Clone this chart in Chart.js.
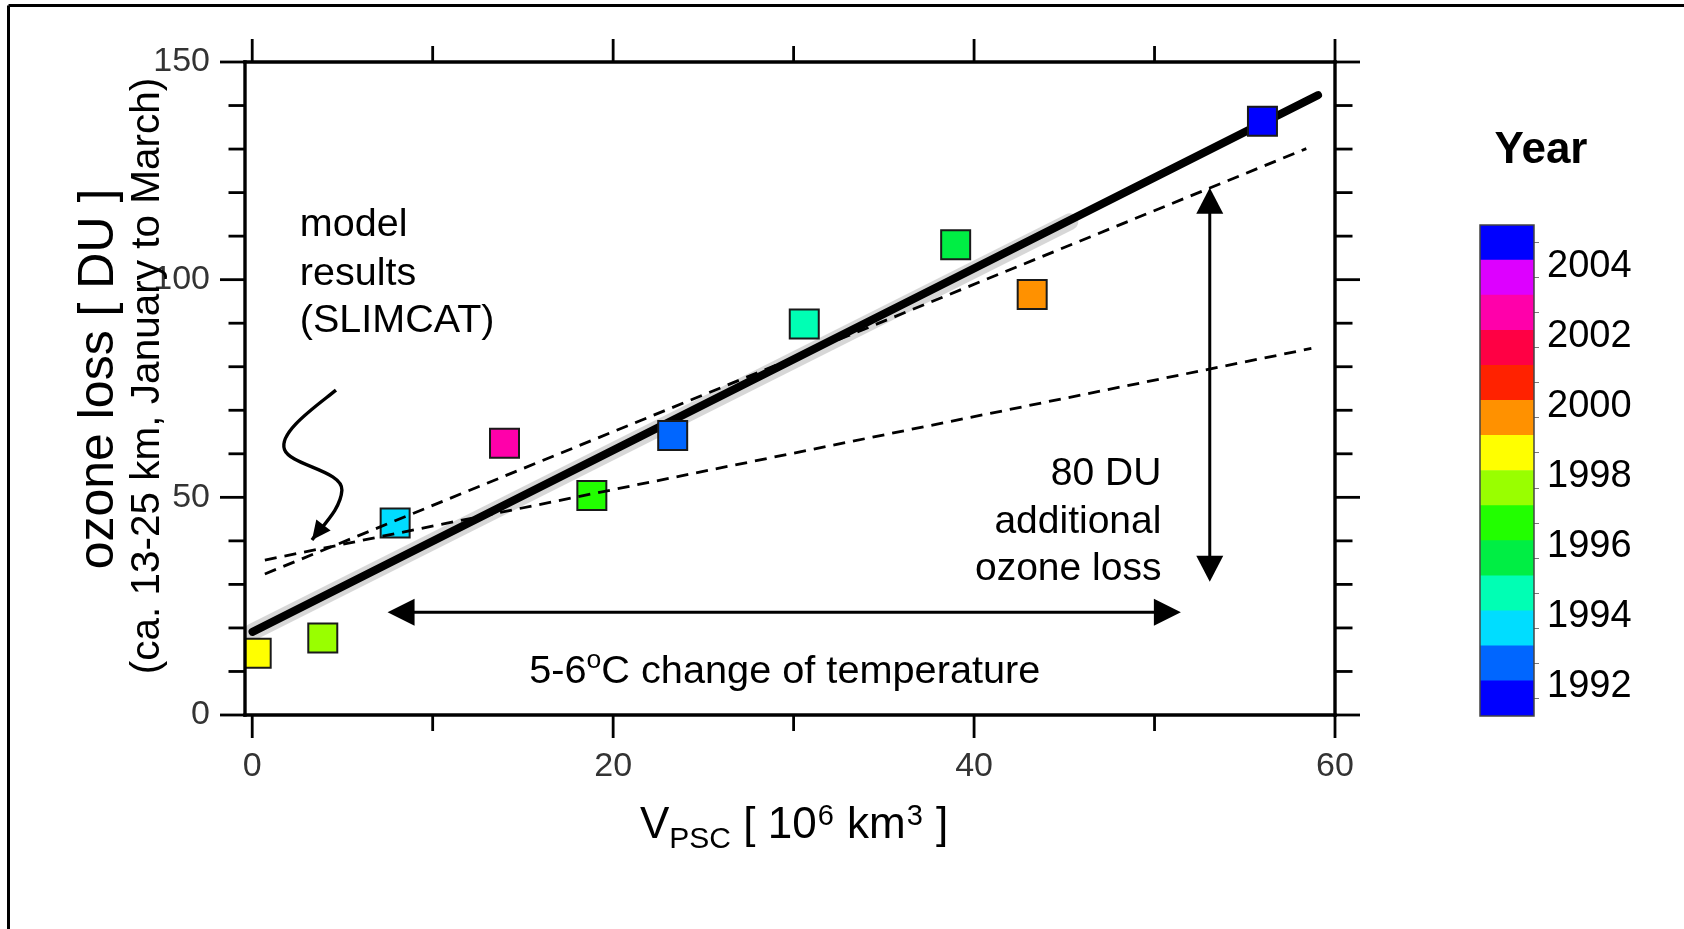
<!DOCTYPE html>
<html>
<head>
<meta charset="utf-8">
<title>Ozone loss vs V_PSC</title>
<script src="https://cdn.jsdelivr.net/npm/chart.js@4.4.1/dist/chart.umd.min.js"></script>
<style>
  html, body { margin: 0; padding: 0; background: #fff; }
  #wrap { position: relative; width: 1684px; height: 929px; overflow: hidden; }
  #ozoneChart { position: absolute; left: 0; top: 0; }
  #yearBar { position: absolute; left: 1440px; top: 0; }
</style>
</head>
<body>
<div id="wrap">
  <canvas id="ozoneChart" width="1684" height="929"></canvas>
  <canvas id="yearBar" width="244" height="929"></canvas>
</div>
<script>
// Observed winters: V_PSC [10^6 km^3] vs ozone loss [DU], coloured by year
const vpsc       = [0.22, 3.91, 7.92, 13.98, 18.82, 23.30, 30.59, 38.98, 43.22, 55.98];
const ozoneLoss  = [14.2, 17.7, 44.1, 62.4, 50.4, 64.2, 89.8, 108.0, 96.6, 136.4];
const winterYear = [1998, 1997, 1993, 2002, 1996, 1992, 1994, 1995, 1999, 2004];

// Regression through the observations, and its grey band
const fitX   = [0.02, 59.06];
const fitY   = [19.1, 142.4];
const shadeX = [0.02, 45.3];
const shadeY = [19.1, 113.3];

// Model results (SLIMCAT), dashed
const steepX = [0.70, 58.41];
const steepY = [32.4, 130.1];
const flatX  = [0.70, 58.69];
const flatY  = [35.6, 84.2];

// Axes
const xTicks  = [0, 10, 20, 30, 40, 50, 60];
const xLabels = [0, 20, 40, 60];
const yTicks  = [0, 10, 20, 30, 40, 50, 60, 70, 80, 90, 100, 110, 120, 130, 140, 150];
const yLabels = [0, 50, 100, 150];

// Colour bar, bottom band first
const bandYears  = [1991, 1992, 1993, 1994, 1995, 1996, 1997, 1998, 1999, 2000, 2001, 2002, 2003, 2004];
const bandColors = ['#0000ff', '#0066ff', '#00ddff', '#00ffb4', '#00ee44', '#22ff00', '#99ff00',
                    '#ffff00', '#ff9100', '#ff2200', '#ff0044', '#ff00aa', '#dd00ff', '#0000ff'];
const yearTicks  = [1992, 1994, 1996, 1998, 2000, 2002, 2004];

// Annotation anchors, in data units
const tempArrow   = { x0: 7.50, x1: 51.46, y: 23.6 };
const lossArrow   = { x: 53.06, y0: 30.6, y1: 121.1 };
const squiggle    = [[4.64, 74.63], [3.63, 71.19], [1.42, 64.97], [1.79, 60.98],
                     [2.12, 57.3], [5.03, 56.15], [4.97, 51.64],
                     [4.91, 47.5], [4.03, 44.1], [3.31, 40.19]];

const FONT = '"Liberation Sans", Arial, sans-serif';
Chart.defaults.font.family = FONT;

function pairs(xs, ys) {
    return xs.map((x, i) => ({ x: x, y: ys[i] }));
}

function arrowHead(ctx, tx, ty, fx, fy, len, half) {
    const a = Math.atan2(ty - fy, tx - fx);
    const bx = tx - len * Math.cos(a);
    const by = ty - len * Math.sin(a);
    ctx.beginPath();
    ctx.moveTo(tx, ty);
    ctx.lineTo(bx + half * Math.sin(a), by - half * Math.cos(a));
    ctx.lineTo(bx - half * Math.sin(a), by + half * Math.cos(a));
    ctx.closePath();
    ctx.fill();
}

function line(ctx, x0, y0, x1, y1) {
    ctx.beginPath();
    ctx.moveTo(x0, y0);
    ctx.lineTo(x1, y1);
    ctx.stroke();
}

function text(ctx, str, x, y, size, align) {
    ctx.font = size + 'px ' + FONT;
    ctx.textAlign = align || 'left';
    ctx.textBaseline = 'alphabetic';
    ctx.fillText(str, x, y);
    return ctx.measureText(str).width;
}

// frame, axes box with ticks, arrows and all the labels
const decorations = {
    id: 'decorations',
    afterDatasetsDraw(chart) {
        const ctx = chart.ctx;
        const sx = chart.scales.x, sy = chart.scales.y;
        const X = v => sx.getPixelForValue(v);
        const Y = v => sy.getPixelForValue(v);
        const { left, right, top, bottom } = chart.chartArea;

        ctx.save();
        ctx.strokeStyle = '#000';
        ctx.fillStyle = '#000';

        // outer frame
        ctx.lineWidth = 3;
        line(ctx, 8.5, 5.5, 8.5, chart.height);
        line(ctx, 8.5, 5.5, chart.width, 5.5);

        // axes box
        ctx.lineWidth = 3.4;
        ctx.lineCap = 'square';
        line(ctx, left, top, right, top);
        line(ctx, left, bottom, right, bottom);
        line(ctx, left, top, left, bottom);
        line(ctx, right, top, right, bottom);
        ctx.lineCap = 'butt';

        ctx.lineWidth = 2.8;
        xTicks.forEach(v => {
            const len = xLabels.includes(v) ? 23 : 16;
            line(ctx, X(v), bottom, X(v), bottom + len);
            line(ctx, X(v), top, X(v), top - len);
        });
        yTicks.forEach(v => {
            const major = yLabels.includes(v);
            line(ctx, left, Y(v), left - (major ? 25 : 16.5), Y(v));
            line(ctx, right, Y(v), right + (major ? 25 : 17.5), Y(v));
        });

        // 5-6 C arrow
        ctx.lineWidth = 3;
        const ay = Y(tempArrow.y);
        line(ctx, X(tempArrow.x0) + 20, ay, X(tempArrow.x1) - 20, ay);
        arrowHead(ctx, X(tempArrow.x0), ay, X(tempArrow.x1), ay, 27, 13.5);
        arrowHead(ctx, X(tempArrow.x1), ay, X(tempArrow.x0), ay, 27, 13.5);

        // 80 DU arrow
        const ax = X(lossArrow.x);
        line(ctx, ax, Y(lossArrow.y1) + 20, ax, Y(lossArrow.y0) - 20);
        arrowHead(ctx, ax, Y(lossArrow.y1), ax, Y(lossArrow.y0), 26, 13.5);
        arrowHead(ctx, ax, Y(lossArrow.y0), ax, Y(lossArrow.y1), 26, 13.5);

        // curly pointer to the model lines
        const p = squiggle.map(q => [X(q[0]), Y(q[1])]);
        ctx.lineWidth = 3.4;
        ctx.beginPath();
        ctx.moveTo(p[0][0], p[0][1]);
        for (let i = 1; i + 2 < p.length; i += 3) {
            ctx.bezierCurveTo(p[i][0], p[i][1], p[i + 1][0], p[i + 1][1], p[i + 2][0], p[i + 2][1]);
        }
        ctx.stroke();
        const tip = p[p.length - 1], prev = p[p.length - 2];
        arrowHead(ctx, tip[0], tip[1], prev[0], prev[1], 19, 9);

        // annotations
        text(ctx, 'model', X(2.64), Y(110.0), 39.5);
        text(ctx, 'results', X(2.64), Y(98.7), 39.5);
        text(ctx, '(SLIMCAT)', X(2.64), Y(88.0), 39.5);

        text(ctx, '80 DU', X(50.38), Y(52.8), 39, 'right');
        text(ctx, 'additional', X(50.38), Y(41.7), 39, 'right');
        text(ctx, 'ozone loss', X(50.38), Y(31.0), 39, 'right');

        let tx = X(15.35);
        const tb = Y(7.28);
        tx += text(ctx, '5-6', tx, tb, 39.7);
        tx += text(ctx, 'o', tx, tb - 15, 26.5);
        text(ctx, 'C change of temperature', tx, tb, 39.7);

        // x axis title with sub- and superscripts
        let vx = 640;
        const vb = 838;
        vx += text(ctx, 'V', vx, vb, 44);
        vx += text(ctx, 'PSC', vx, vb + 10, 30);
        vx += text(ctx, ' [ 10', vx, vb, 44);
        vx += text(ctx, '6', vx + 1, vb - 13, 29) + 2;
        vx += text(ctx, ' km', vx, vb, 44);
        vx += text(ctx, '3', vx + 1, vb - 13, 29) + 2;
        text(ctx, ' ]', vx, vb, 44);

        // y axis title, two lines
        ctx.save();
        ctx.translate(113, 379);
        ctx.rotate(-Math.PI / 2);
        text(ctx, 'ozone loss [ DU ]', 0, 0, 50, 'center');
        ctx.restore();
        ctx.save();
        ctx.translate(159, 376);
        ctx.rotate(-Math.PI / 2);
        text(ctx, '(ca. 13-25 km, January to March)', 0, 0, 40.5, 'center');
        ctx.restore();

        ctx.restore();
    }
};

const pointColors = winterYear.map(yr => bandColors[bandYears.indexOf(yr)]);

new Chart(document.getElementById('ozoneChart'), {
    type: 'scatter',
    data: {
        datasets: [
            {
                label: 'SLIMCAT',
                type: 'line',
                data: pairs(steepX, steepY),
                borderColor: '#000',
                borderWidth: 2.8,
                borderDash: [12, 8],
                pointRadius: 0,
                order: 0
            },
            {
                label: 'SLIMCAT (2)',
                type: 'line',
                data: pairs(flatX, flatY),
                borderColor: '#000',
                borderWidth: 2.8,
                borderDash: [12, 8],
                pointRadius: 0,
                order: 0
            },
            {
                label: 'Observed',
                data: pairs(vpsc, ozoneLoss),
                pointStyle: 'rect',
                pointRadius: 20.5,
                backgroundColor: pointColors,
                borderColor: '#1a1a1a',
                borderWidth: 2,
                order: 1
            },
            {
                label: 'Fit',
                type: 'line',
                data: pairs(fitX, fitY),
                borderColor: '#000',
                borderWidth: 8,
                borderCapStyle: 'round',
                pointRadius: 0,
                order: 2
            },
            {
                label: 'Fit band',
                type: 'line',
                data: pairs(shadeX, shadeY),
                borderColor: 'rgba(175,175,175,0.5)',
                borderWidth: 17,
                borderCapStyle: 'round',
                pointRadius: 0,
                order: 3
            }
        ]
    },
    options: {
        responsive: false,
        animation: false,
        events: [],
        layout: { padding: { top: 62, right: 349, left: 0, bottom: 0 } },
        plugins: {
            legend: { display: false },
            tooltip: { enabled: false }
        },
        scales: {
            x: {
                type: 'linear',
                min: -0.4,
                max: 60,
                afterBuildTicks: s => { s.ticks = xTicks.map(v => ({ value: v })); },
                afterFit: s => { s.height = 214; },
                grid: { display: false, drawTicks: false },
                border: { display: false },
                ticks: {
                    autoSkip: false,
                    maxRotation: 0,
                    padding: 31,
                    color: '#333',
                    font: { size: 34 },
                    callback: v => xLabels.includes(v) ? String(v) : ''
                }
            },
            y: {
                type: 'linear',
                min: 0,
                max: 150,
                afterBuildTicks: s => { s.ticks = yTicks.map(v => ({ value: v })); },
                afterFit: s => { s.width = 245; },
                grid: { display: false, drawTicks: false },
                border: { display: false },
                ticks: {
                    autoSkip: false,
                    padding: 35,
                    color: '#333',
                    font: { size: 34 },
                    callback: v => yLabels.includes(v) ? String(v) : ''
                }
            }
        }
    },
    plugins: [decorations]
});

// colour bar frame and its title
const barFrame = {
    id: 'barFrame',
    afterDraw(chart) {
        const ctx = chart.ctx;
        const a = chart.chartArea;
        ctx.save();
        ctx.strokeStyle = '#444';
        ctx.lineWidth = 1.5;
        ctx.strokeRect(a.left, a.top, a.right - a.left, a.bottom - a.top);
        ctx.fillStyle = '#000';
        ctx.font = 'bold 44px ' + FONT;
        ctx.textAlign = 'center';
        ctx.fillText('Year', 101, 163);
        ctx.restore();
    }
};

new Chart(document.getElementById('yearBar'), {
    type: 'bar',
    data: {
        labels: [''],
        datasets: bandYears.map((yr, i) => ({
            label: String(yr),
            data: [[yr, yr + 1]],
            backgroundColor: bandColors[i],
            borderWidth: 0,
            grouped: false,
            barPercentage: 1,
            categoryPercentage: 1
        }))
    },
    options: {
        responsive: false,
        animation: false,
        events: [],
        layout: { padding: { left: 40, top: 225, bottom: 213, right: 0 } },
        plugins: {
            legend: { display: false },
            tooltip: { enabled: false }
        },
        scales: {
            x: { display: false },
            y: {
                position: 'right',
                min: 1991,
                max: 2005,
                afterBuildTicks: s => { s.ticks = bandYears.concat([2005]).map(v => ({ value: v })); },
                afterFit: s => { s.width = 150; },
                grid: { drawOnChartArea: false, drawTicks: true, tickLength: 5, tickColor: '#777', lineWidth: 1, offset: true },
                border: { display: false },
                ticks: {
                    autoSkip: false,
                    padding: 8,
                    labelOffset: 6,
                    color: '#000',
                    font: { size: 38 },
                    callback: v => yearTicks.includes(v) ? String(v) : ''
                }
            }
        }
    },
    plugins: [barFrame]
});
</script>
</body>
</html>
